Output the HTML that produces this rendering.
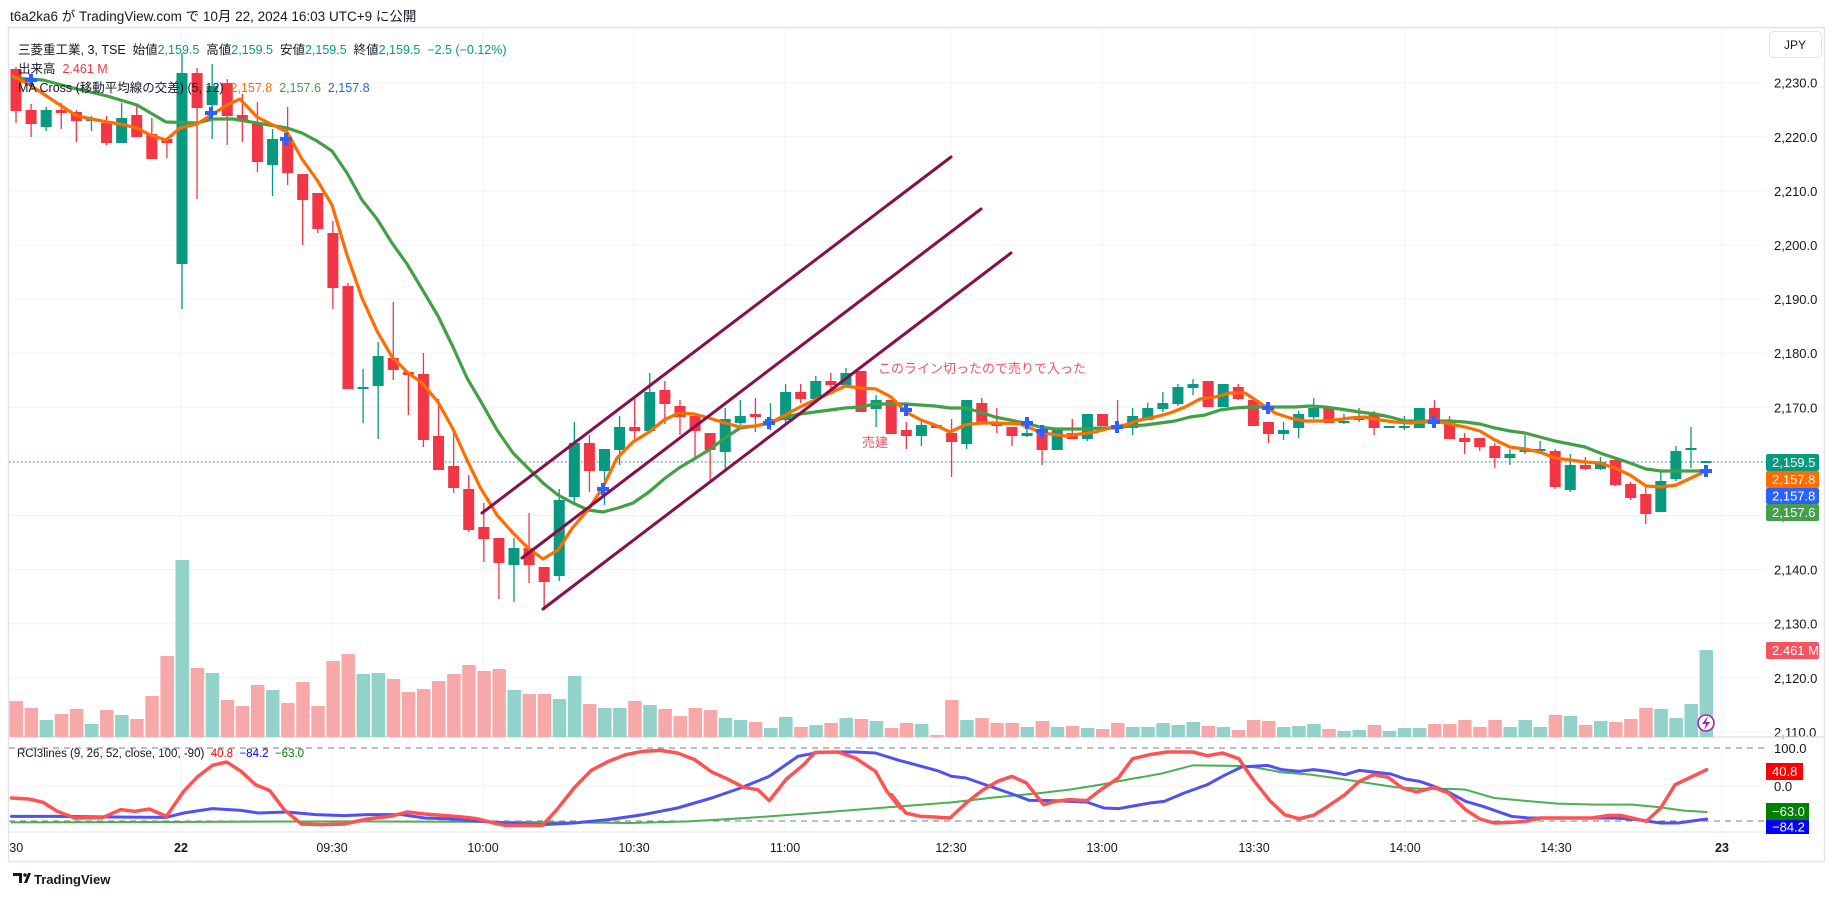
<!DOCTYPE html>
<html><head><meta charset="utf-8">
<style>
html,body{margin:0;padding:0;background:#fff;}
body{width:1835px;height:897px;overflow:hidden;font-family:"Liberation Sans","Noto Sans CJK JP",sans-serif;}
svg text{font-family:"Liberation Sans","Noto Sans CJK JP",sans-serif;}
</style></head>
<body>
<svg id="c" width="1835" height="897" viewBox="0 0 1835 897" xmlns="http://www.w3.org/2000/svg"></svg>
<script>
var S=[];
function a(s){S.push(s);}
function Y(p){return 82.7+(2230-p)*5.41;}
// frame
a('<rect x="0" y="0" width="1835" height="897" fill="#fff"/>');
a('<text x="10" y="21" font-size="13.5" fill="#131722">t6a2ka6 が TradingView.com で 10月 22, 2024 16:03 UTC+9 に公開</text>');
a('<rect x="8.5" y="27.5" width="1816" height="834" fill="#fff" stroke="#e0e3eb" stroke-width="1.5"/>');
// grid verticals
var vx=[181,332,483,634,785,951,1102,1254,1405,1556,1722];
vx.forEach(function(x){a('<line x1="'+x+'" y1="28" x2="'+x+'" y2="832" stroke="#f0f3fa" stroke-width="1"/>');});
// price grid
for(var p=2230;p>=2110;p-=10){var y=Y(p);a('<line x1="9" y1="'+y+'" x2="1766" y2="'+y+'" stroke="#f0f3fa"/>');
a('<text x="1774" y="'+(y+5)+'" font-size="13" fill="#131722">'+(p/1000|0)+','+String(p%1000).padStart(3,'0')+'.0</text>');}
// pane separator
a('<line x1="9" y1="737" x2="1824" y2="737" stroke="#e0e3eb" stroke-width="1.5"/>');
a('<line x1="1766" y1="28" x2="1766" y2="861" stroke="#fff"/>');
// JPY
a('<rect x="1769.5" y="31.5" width="52" height="26" rx="4" fill="#fff" stroke="#e0e3eb"/><text x="1784" y="49" font-size="12" fill="#131722">JPY</text>');
// volume
var vz=[183,204,240,222,207,252,210,225,237,168,48,-240,84,99,180,198,135,150,189,126,198,63,42,102,99,117,156,147,123,102,75,93,87,150,162,162,177,108,192,204,204,183,195,207,228,204,210,234,240,246,264,231,261,255,249,234,237,243,
264,249,252,285,180,240,234,249,249,261,243,261,258,264,267,249,261,261,249,255,246,258,261,270,240,243,261,258,252,267,273,270,255,273,264,264,252,252,240,261,240,261,240,261,225,228,255,243,246,237,204,207,234,192,30];
var C=[
['r',69,111,67,123],['r',110,124,104,137],['g',110,127,107,131],['r',110,113,103,129],['r',112,121,110,142],['g',119,121,116,131],['r',123,143,116,145],['g',118,143,103,143],['r',115,137,105,137],['r',134,159,118,159],['r',139,143,139,158],
['g',73,264,53,309],['r',73,108,68,199],['g',86,105,64,139],['r',83,116,79,145],['r',115,121,94,142],['r',123,162,102,172],['g',139,165,129,196],['r',139,173,107,185],['r',174,200,174,245],['r',193,229,193,233],['r',233,288,221,309],['r',286,389,283,389],['g',387,389,369,423],['g',356,386,342,439],['r',358,370,302,380],['r',372,375,372,415],['r',374,440,353,447],['r',436,470,399,470],['r',466,488,428,493],['r',489,530,475,532],
['r',527,539,503,562],['r',538,563,538,599],['g',548,565,538,602],['r',548,565,513,583],['r',567,582,567,610],['g',500,576,489,581],['g',443,497,422,503],['r',443,471,435,492],['g',449,471,449,505],['g',427,450,416,465],['r',427,431,398,441],['g',392,431,373,431],['r',390,404,381,424],['r',406,417,400,435],['r',416,431,416,459],['r',433,450,433,481],['g',419,452,408,470],['g',416,423,400,425],['r',414,417,398,432],['g',419,421,403,430],['g',392,420,384,424],['r',392,399,384,403],['g',381,399,376,399],['r',381,385,373,390],['g',373,385,368,385],['r',371,412,371,412],['g',400,409,395,427],['r',400,434,400,434],['r',430,436,422,449],['g',425,436,420,446],
['r',425,428,425,428],['r',433,442,419,477],['g',400,444,400,449],['r',403,423,398,425],['r',422,426,408,433],['r',427,436,427,446],['g',433,436,417,437],['r',431,450,431,465],['g',430,450,430,450],['r',433,439,419,439],['g',414,439,414,441],['r',414,426,414,426],['r',426,428,400,428],['g',416,428,408,435],['g',408,420,403,420],['g',403,409,392,412],['g',387,404,384,406],['g',384,388,379,395],['r',381,407,381,407],['g',384,407,384,407],['r',387,399,384,400],['r',400,426,400,426],['r',422,434,422,443],['g',430,434,422,440],['g',414,428,411,438],['g',408,417,398,419],['r',408,423,408,423],['g',421,423,414,424],
['g',416,420,408,422],['r',414,428,411,435],['g',426,428,426,428],['g',426,428,416,430],['g',408,428,408,428],['r',408,422,400,428],['r',422,439,416,439],['r',438,442,433,454],['r',438,447,438,451],['r',446,458,443,468],['g',454,458,449,465],['g',449,452,435,454],['g',449,451,441,454],['r',451,487,449,489],['g',465,490,454,492],['r',465,469,457,470],['g',462,469,457,470],['r',460,485,459,486],['r',484,498,482,500],['r',494,514,486,524],['g',481,512,470,512],['g',451,479,446,481],['g',448,450,427,468],['g',461,463,461,463]];
function X(i){return 16+15.09*i;}
for(var i=0;i<vz.length&&i<C.length;i++){var t=640+vz[i]/3;var col=C[i][0]=='g'?'#93d2cb':'#f7a9a9';
a('<rect x="'+(X(i)-6.5)+'" y="'+t+'" width="13.5" height="'+(737-t)+'" fill="'+col+'"/>');}
// price line dotted
a('<line x1="9" y1="462" x2="1766" y2="462" stroke="#089981" stroke-width="1" stroke-dasharray="1.5,2.5"/>');
// MA lines
function pl(pts,col,w){a('<polyline points="'+pts.map(function(q){return q.join(',');}).join(' ')+'" fill="none" stroke="'+col+'" stroke-width="'+w+'" stroke-linejoin="round" stroke-linecap="round"/>');}
var G=[[13,78],[43,80],[77,89],[107,96],[137,105],[166,122],[197,123],[213,119],[233,119],[257,123],[287,128],[302,133],[317,141],[332,151],[347,173],[362,200],[377,219],[392,243],[407,264],[422,289],[438,316],[453,347],[467,378],[480,400],[497,430],[513,453],[528,468],[543,483],[558,495],[573,503],[588,510],[603,512],[618,508],[633,503],[649,492],[664,479],[679,468],[694,459],[709,450],[725,438],[740,428],[755,426],[770,423],[785,417],[800,414],[815,412],[830,410],[845,408],[860,407],[876,404],[891,404],[906,404],[920,405],[935,406],[950,408],[965,408],[980,412],[995,417],[1010,420],[1025,423],[1040,427],[1055,429],[1070,429],[1085,429],[1100,428],[1115,428],[1130,426],[1145,425],[1160,423],[1175,421],[1190,417],[1205,415],[1220,410],[1235,408],[1250,407],[1265,407],[1280,407],[1295,407],[1310,406],[1325,407],[1340,409],[1360,412],[1375,414],[1390,417],[1405,421],[1420,421],[1435,421],[1450,421],[1465,422],[1480,424],[1495,428],[1510,431],[1525,433],[1540,437],[1555,441],[1570,444],[1585,447],[1600,453],[1615,458],[1630,463],[1646,469],[1661,471],[1676,471],[1691,471],[1706,471]];
var O=[[13,76],[30,85],[60,105],[77,116],[107,122],[120,124],[137,128],[150,135],[166,140],[180,128],[197,124],[213,114],[227,105],[240,99],[257,117],[273,125],[287,132],[302,159],[317,180],[332,205],[347,255],[362,298],[377,331],[392,357],[407,372],[422,383],[438,402],[453,429],[467,460],[480,487],[497,515],[513,533],[528,548],[543,559],[558,550],[573,527],[588,510],[603,487],[617,458],[633,442],[649,432],[664,420],[679,413],[694,414],[709,418],[725,423],[740,427],[755,426],[770,423],[785,415],[800,407],[815,400],[830,393],[845,386],[860,388],[876,389],[891,397],[906,412],[921,420],[935,425],[950,432],[965,425],[980,423],[995,423],[1020,424],[1035,430],[1050,434],[1065,436],[1080,434],[1095,432],[1110,428],[1125,425],[1140,420],[1155,417],[1170,413],[1185,407],[1200,399],[1215,397],[1230,393],[1245,393],[1260,403],[1275,413],[1290,418],[1305,421],[1320,421],[1335,420],[1350,418],[1365,417],[1380,420],[1395,422],[1410,423],[1425,422],[1435,421],[1450,424],[1465,427],[1480,431],[1495,440],[1510,447],[1525,449],[1540,452],[1555,458],[1570,460],[1585,462],[1600,463],[1615,468],[1630,475],[1646,486],[1661,487],[1676,485],[1691,478],[1706,471]];
// candles
for(var i=0;i<C.length;i++){var c=C[i],x=X(i),col=c[0]=='g'?'#089981':'#f23645';
a('<line x1="'+x+'" y1="'+c[3]+'" x2="'+x+'" y2="'+c[4]+'" stroke="'+col+'" stroke-width="1.3"/>');
var h=Math.max(c[2]-c[1],1.5);a('<rect x="'+(x-5.5)+'" y="'+c[1]+'" width="11" height="'+h+'" fill="'+col+'"/>');}
pl(G,'#43a047',3.2);pl(O,'#ff6d00',3.2);
// crosses
[[31,80],[211,113],[286,139],[603,489],[769,423],[906,410],[1027,423],[1042,431],[1117,427],[1268,408],[1434,422],[1706,471]].forEach(function(q){
a('<rect x="'+(q[0]-6)+'" y="'+(q[1]-2)+'" width="12" height="4" fill="#2962ff"/><rect x="'+(q[0]-2)+'" y="'+(q[1]-6)+'" width="4" height="12" fill="#2962ff"/>');});
// channel
a('<g stroke="#880e4f" stroke-width="3" stroke-linecap="round"><line x1="482" y1="513" x2="951" y2="157"/><line x1="522" y1="558" x2="981" y2="209"/><line x1="543" y1="609" x2="1011" y2="253"/></g>');
a('<text x="878" y="373" font-size="13" fill="#f23645" opacity="0.85">このライン切ったので売りで入った</text>');
a('<text x="862" y="447" font-size="13" fill="#f23645" opacity="0.85">売建</text>');
// legend
a('<text x="18" y="54" font-size="12.5" fill="#131722">三菱重工業, 3, TSE&#160; 始値<tspan fill="#089981">2,159.5</tspan>&#160; 高値<tspan fill="#089981">2,159.5</tspan>&#160; 安値<tspan fill="#089981">2,159.5</tspan>&#160; 終値<tspan fill="#089981">2,159.5&#160; −2.5 (−0.12%)</tspan></text>');
a('<text x="18" y="73" font-size="12.5" fill="#131722">出来高&#160; <tspan fill="#f23645">2.461 M</tspan></text>');
a('<text x="18" y="92" font-size="12.5" fill="#131722">MA Cross (移動平均線の交差) (5, 12)&#160; <tspan fill="#ff6d00">2,157.8</tspan>&#160; <tspan fill="#43a047">2,157.6</tspan>&#160; <tspan fill="#2962ff">2,157.8</tspan></text>');
// right labels
function lab(y,h,w,bg,t){a('<rect x="1766" y="'+y+'" width="'+w+'" height="'+h+'" rx="2" fill="'+bg+'"/><text x="1772" y="'+(y+h/2+4.5)+'" font-size="13" fill="#fff">'+t+'</text>');}
lab(454,17,53,'#089981','2,159.5');lab(471,17,53,'#ff6d00','2,157.8');lab(488,16,53,'#2962ff','2,157.8');lab(504,17,53,'#43a047','2,157.6');
lab(642,17,53,'#f7525f','2.461 M');
// lightning
a('<circle cx="1706" cy="723" r="8" fill="#fff" stroke="#9c27b0" stroke-width="1.6"/><path d="M1708 716 L1702 724 L1706 724 L1704 730 L1710 722 L1706 722 Z" fill="#9c27b0"/>');
// RCI pane
function R(v){return 786-v*0.38;}
a('<line x1="9" y1="786" x2="1766" y2="786" stroke="#f0f3fa"/>');
a('<line x1="9" y1="748" x2="1766" y2="748" stroke="#787b86" stroke-dasharray="6,5"/>');
a('<line x1="9" y1="821" x2="1766" y2="821" stroke="#787b86" stroke-dasharray="6,5"/>');
a('<text x="1774" y="753" font-size="13" fill="#131722">100.0</text><text x="1774" y="791" font-size="13" fill="#131722">0.0</text>');
function zz(l,ox){return l.map(function(q){return [ox+q[0]/1.742,738+q[1]/3];});}
var GR=zz([[20,253],[300,252],[600,250],[900,252],[1100,255],[1200,250],[1300,240],[1420,225],[1568,205]],0).concat(zz([[0,210],[125,193],[200,178],[280,165],[330,155],[385,140],[440,122],[490,107],[545,82],[640,84],[700,103],[750,110],[800,122],[850,135],[900,148],[940,152],[1000,153],[1020,155],[1070,180],[1120,188],[1180,197],[1250,200],[1310,200],[1360,208],[1400,218],[1440,222]],880).slice(1));
var BL=zz([[20,235],[100,235],[200,237],[290,238],[320,225],[370,212],[420,217],[450,225],[500,222],[550,230],[600,233],[640,230],[700,230],[740,240],[790,243],[840,250],[880,255],[945,260],[1000,255],[1060,245],[1120,230],[1180,210],[1240,180],[1290,150],[1340,115],[1390,55],[1430,42],[1490,42],[1525,45],[1568,68]],0).concat(zz([[40,70],[100,98],[125,115],[150,120],[200,150],[230,168],[260,187],[300,188],[360,192],[390,210],[415,212],[470,195],[495,190],[530,165],[570,140],[600,112],[630,87],[675,82],[700,95],[730,100],[755,95],[780,100],[810,110],[835,97],[865,103],[890,108],[915,123],[940,130],[965,145],[990,162],[1020,190],[1050,205],[1075,220],[1100,235],[1130,240],[1200,240],[1280,240],[1320,245],[1360,255],[1390,255],[1440,243]],880));
var RD=zz([[20,180],[50,183],[75,193],[100,220],[130,240],[180,238],[210,215],[235,220],[260,213],[290,235],[320,160],[345,115],[370,82],[395,72],[420,100],[445,140],[470,158],[495,215],[525,258],[560,260],[600,258],[640,243],[680,235],[710,222],[740,228],[770,232],[800,236],[830,242],[860,255],[880,262],[910,262],[945,262],[970,215],[1000,150],[1030,97],[1060,70],[1090,50],[1120,40],[1150,37],[1180,45],[1210,65],[1240,102],[1270,125],[1295,148],[1320,155],[1340,188],[1370,123],[1400,80],[1420,43],[1460,42],[1490,60],[1525,100],[1545,160],[1568,210]],0).concat(zz([[20,170],[45,225],[70,235],[95,237],[122,240],[150,195],[180,155],[205,130],[230,115],[255,135],[285,200],[305,190],[330,185],[360,188],[385,155],[415,120],[440,62],[470,50],[500,42],[545,42],[570,53],[597,45],[625,62],[650,125],[680,190],[705,230],[730,242],[755,232],[780,205],[810,170],[835,130],[860,110],[885,118],[910,150],[935,162],[965,148],[990,165],[1020,215],[1045,243],[1070,255],[1100,253],[1125,250],[1150,240],[1180,240],[1210,240],[1240,240],[1270,232],[1290,232],[1310,240],[1335,250],[1360,210],[1385,140],[1410,120],[1440,95]],880));
pl(GR,'#4caf50',2);pl(BL,'#5050f5',3);pl(RD,'#ff5252',3.5);
a('<text x="17" y="757" font-size="11.5" fill="#131722">RCI3lines (9, 26, 52, close, 100, -90)&#160; <tspan fill="#ff0000">40.8</tspan>&#160; <tspan fill="#0000ff">−84.2</tspan>&#160; <tspan fill="#008000">−63.0</tspan></text>');
function lab2(y,h,w,bg,t){a('<rect x="1766" y="'+y+'" width="'+w+'" height="'+h+'" fill="'+bg+'"/><text x="1772" y="'+(y+h/2+4.5)+'" font-size="13" fill="#fff">'+t+'</text>');}
lab2(763,17,37,'#ff0000','40.8');lab2(803,17,43,'#008000','−63.0');lab2(820,14,43,'#0000ff','−84.2');
// time axis
a('<line x1="9" y1="832" x2="1766" y2="832" stroke="#e0e3eb"/>');
var tl=[[11,'3:30'],[181,'22'],[332,'09:30'],[483,'10:00'],[634,'10:30'],[785,'11:00'],[951,'12:30'],[1102,'13:00'],[1254,'13:30'],[1405,'14:00'],[1556,'14:30'],[1722,'23']];
tl.forEach(function(q){a('<text x="'+q[0]+'" y="852" font-size="12.5" fill="#131722" text-anchor="middle"'+(q[1]=='22'||q[1]=='23'?' font-weight="bold"':'')+'>'+q[1]+'</text>');});
a('<rect x="0" y="835" width="8" height="25" fill="#fff"/>');
// logo
a('<path d="M13 873 h9 v10 h-3 v-7 h-6z M24 883 l4 -10 h3 l-4 10z" fill="#131722"/><circle cx="25" cy="875" r="1.8" fill="#131722"/>');
a('<text x="34" y="884" font-size="13" font-weight="bold" fill="#131722">TradingView</text>');
document.getElementById('c').innerHTML=S.join('');
</script>
</body></html>
